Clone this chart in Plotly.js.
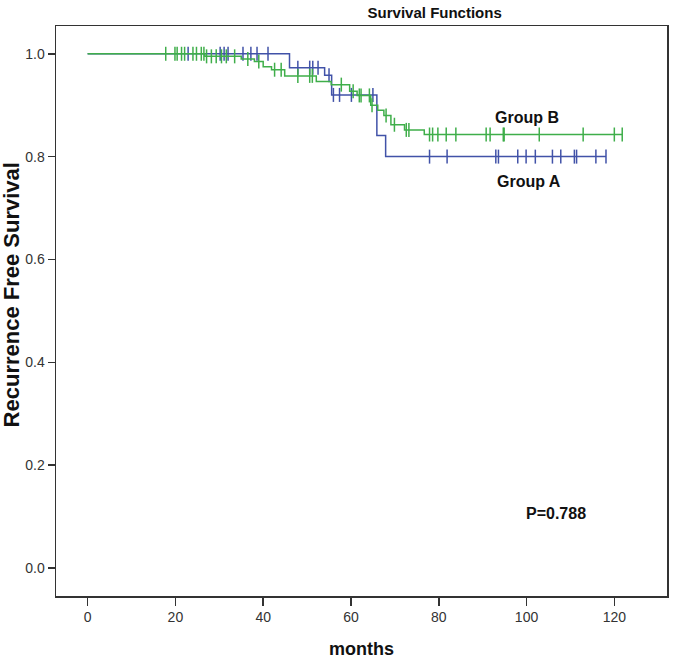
<!DOCTYPE html>
<html>
<head>
<meta charset="utf-8">
<script src="https://cdn.plot.ly/plotly-3.0.1.min.js"></script>
<style>html,body{margin:0;padding:0;background:#fff}#chart{width:675px;height:663px}</style>
</head>
<body>
<div id="chart"></div>
<script>
// Group A (blue): Kaplan-Meier step points and censored times
const groupATime = [0, 46, 54, 55.6, 65.9, 67.9, 118.1];
const groupASurv = [1.0, 0.973, 0.958, 0.920, 0.841, 0.800, 0.800];
const groupACensor = [22.9, 30.2, 31.1, 32.0, 35.4, 37.2, 38.6, 41.1, 47.9, 50.6, 51.3, 52.5, 55.0, 56.0, 57.4, 60.1, 65.0, 77.9, 81.9, 93.0, 93.6, 98.0, 99.9, 102.0, 105.9, 107.8, 110.9, 111.4, 115.8, 118.1];

// Group B (green)
const groupBTime = [0, 26.7, 35, 38, 40, 41.9, 44.9, 52.1, 55.5, 59.7, 61.4, 64.5, 66.1, 67.5, 69.1, 72.2, 76.7, 121.8];
const groupBSurv = [1.0, 0.995, 0.99, 0.985, 0.975, 0.969, 0.957, 0.946, 0.940, 0.927, 0.919, 0.900, 0.890, 0.880, 0.862, 0.852, 0.843, 0.843];
const groupBCensor = [17.8, 19.9, 20.4, 21.4, 22.1, 24.0, 24.8, 25.9, 26.5, 27.1, 28.2, 29.3, 30.5, 31.6, 33.5, 36.5, 39.0, 42.6, 44.1, 47.9, 50.6, 51.2, 57.8, 60.5, 61.9, 62.3, 64.2, 64.8, 68.0, 69.9, 72.6, 73.2, 77.9, 78.6, 79.8, 81.7, 83.9, 90.8, 91.7, 94.7, 94.9, 102.9, 112.9, 120, 121.8];

const xTicks = [0, 20, 40, 60, 80, 100, 120];
const yTicks = [0.0, 0.2, 0.4, 0.6, 0.8, 1.0];

function survAt(times, surv, t) {
  let v = surv[0];
  for (let i = 0; i < times.length; i++) { if (times[i] <= t) v = surv[i]; }
  return v;
}

const blue = '#4152a8';
const green = '#3fae4a';

function kmTraces(times, surv, censor, color) {
  return [
    {x: times, y: surv, type: 'scatter', mode: 'lines', line: {shape: 'hv', color: color, width: 1.5}, hoverinfo: 'skip'},
    {x: censor, y: censor.map(t => survAt(times, surv, t)), type: 'scatter', mode: 'markers',
     marker: {symbol: 'line-ns-open', size: 10, color: color, line: {color: color, width: 1.5}}, hoverinfo: 'skip'}
  ];
}

const data = [].concat(
  kmTraces(groupATime, groupASurv, groupACensor, blue),
  kmTraces(groupBTime, groupBSurv, groupBCensor, green)
);

const narrow = '"Liberation Sans Narrow", "Arial Narrow", "Liberation Sans", Arial, sans-serif';

const layout = {
  width: 675, height: 663,
  margin: {l: 56, r: 8, t: 25.5, b: 67},
  paper_bgcolor: '#fff', plot_bgcolor: '#fff',
  showlegend: false,
  title: {text: '<b>Survival Functions</b>', font: {family: narrow, size: 15, color: '#111'},
          x: 0.644, xanchor: 'center', xref: 'container', y: 0.981, yanchor: 'middle', yref: 'container'},
  xaxis: {
    range: [-7.2, 132.0], tickvals: xTicks, ticktext: xTicks.map(String),
    ticks: 'outside', ticklen: 8, tickwidth: 1.5, tickcolor: '#333',
    showline: true, mirror: true, linecolor: '#333', linewidth: 1.5,
    showgrid: false, zeroline: false,
    tickfont: {family: narrow, size: 14, color: '#333'},
    title: {text: '<b>months</b>', font: {family: narrow, size: 18, color: '#111'}, standoff: 18}
  },
  yaxis: {
    range: [-0.0544, 1.054], tickvals: yTicks, ticktext: yTicks.map(v => v.toFixed(1)),
    ticks: 'outside', ticklen: 7, tickwidth: 1.5, tickcolor: '#333',
    showline: true, mirror: true, linecolor: '#333', linewidth: 1.5,
    showgrid: false, zeroline: false,
    tickfont: {family: narrow, size: 14, color: '#333'}
  },
  annotations: [
    {x: -0.0721, y: 0.529, xref: 'paper', yref: 'paper', xanchor: 'center', yanchor: 'middle', textangle: -90,
     text: '<b>Recurrence Free Survival</b>', showarrow: false, font: {family: '"Liberation Sans", Arial, sans-serif', size: 22, color: '#111'}},
    {x: 100.2, y: 0.877, xref: 'x', yref: 'y', text: '<b>Group B</b>', showarrow: false, font: {family: narrow, size: 16, color: '#111'}},
    {x: 100.6, y: 0.751, xref: 'x', yref: 'y', text: '<b>Group A</b>', showarrow: false, font: {family: narrow, size: 16, color: '#111'}},
    {x: 106.8, y: 0.107, xref: 'x', yref: 'y', text: '<b>P=0.788</b>', showarrow: false, font: {family: narrow, size: 16, color: '#111'}}
  ]
};

Plotly.newPlot('chart', data, layout, {staticPlot: true, displayModeBar: false});
</script>
</body>
</html>
